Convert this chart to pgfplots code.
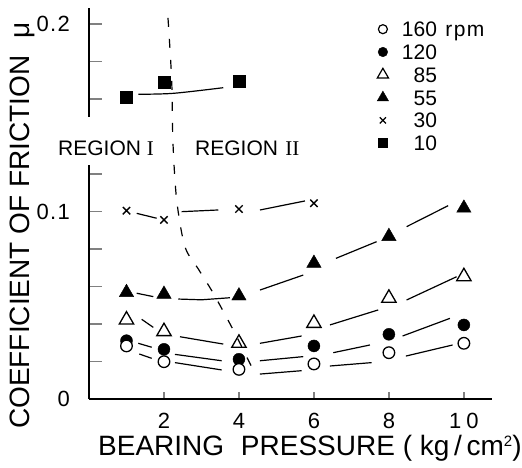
\documentclass[border=0pt]{standalone}
\usepackage{pgfplots}
\pgfplotsset{compat=1.18}
\usepackage{fontspec}
\setmainfont{Liberation Sans}
\newfontfamily\numeralfont{Liberation Serif}
\newfontfamily\tickfont{Liberation Sans}[LetterSpace=6]

% fitted friction curves, one broken segment between neighbouring points
\pgfplotstableread{
x y
1.341 0.0240
1.672 0.0217
nan nan
2.293 0.0194
3.539 0.0155
nan nan
4.56 0.0133
5.672 0.0151
nan nan
6.427 0.0176
7.539 0.0194
nan nan
8.453 0.0229
9.699 0.0288
}\fitA
\pgfplotstableread{
x y
1.315 0.0297
1.672 0.0276
nan nan
2.293 0.0238
3.539 0.0204
nan nan
4.56 0.0204
5.715 0.0226
nan nan
6.515 0.0247
7.493 0.0288
nan nan
8.365 0.0336
9.627 0.0430
}\fitB
\pgfplotstableread{
x y
1.405 0.0425
1.715 0.0382
nan nan
2.427 0.0332
3.581 0.0293
nan nan
4.56 0.0297
5.672 0.0336
nan nan
6.427 0.0395
7.715 0.0475
nan nan
8.472 0.0528
9.805 0.0652
}\fitC
\pgfplotstableread{
x y
1.272 0.0564
1.715 0.0546
nan nan
2.381 0.0533
3.0 0.0529
3.76 0.0540
nan nan
4.56 0.0581
5.715 0.0661
nan nan
6.587 0.0750
7.672 0.0839
nan nan
8.472 0.0919
9.581 0.1031
}\fitD
\pgfplotstableread{
x y
1.272 0.0990
1.805 0.0964
nan nan
2.472 0.0999
3.448 0.1008
nan nan
4.56 0.1008
5.76 0.1056
}\fitE
\pgfplotstableread{
x y
1.315 0.1625
2.25 0.1630
3.581 0.1660
}\fitF
% boundary between region I and region II
\pgfplotstableread{
x y
2.107 0.2032
2.205 0.1701
2.24 0.1365
2.339 0.1061
2.56 0.0812
2.933 0.0688
3.315 0.0564
3.848 0.0368
4.293 0.0190
4.373 0.0160
}\boundary
% measured coefficients of friction
\pgfplotstableread{
x y
1 0.0283
2 0.0199
4 0.0158
6 0.0187
8 0.0247
10 0.0297
}\rpmA
\pgfplotstableread{
x y
1 0.0311
2 0.0265
4 0.0212
6 0.0283
8 0.0345
10 0.0395
}\rpmB
\pgfplotstableread{
x y
1 0.0422
2 0.0360
4 0.0298
6 0.0404
8 0.0538
10 0.0653
}\rpmC
\pgfplotstableread{
x y
1 0.0568
2 0.0559
4 0.0550
6 0.0724
8 0.0867
10 0.1018
}\rpmD
\pgfplotstableread{
x y
1 0.1004
2 0.0955
4 0.1013
6 0.1044
}\rpmE
\pgfplotstableread{
x y
1 0.1607
2 0.1692
4 0.1696
}\rpmF

\begin{document}
\begin{tikzpicture}
\begin{axis}[
  scale only axis, width=403pt, height=391pt,
  xmin=0, xmax=10.75, ymin=0, ymax=0.2085,
  clip=false,
  axis x line*=bottom, axis y line*=left,
  x axis line style={line width=1.8pt, -},
  y axis line style={draw=none},
  tick align=inside,
  xtick={2,4,6,8,10}, xticklabels={2,4,6,8,1\hspace{5pt}0},
  ytick={0,0.1,0.2}, yticklabels={0,0.1,0.2},
  minor ytick={0.02,0.04,0.06,0.08,0.12,0.16,0.18},
  xtick style={line width=1.3pt, /pgfplots/major tick length=7pt},
  ytick style={line width=1.3pt, /pgfplots/major tick length=13pt},
  minor y tick style={line width=1.3pt, /pgfplots/minor tick length=13pt},
  /pgf/number format/assume math mode=true,
  tick label style={font=\tickfont\fontsize{22}{22}\selectfont, inner sep=0pt},
  yticklabel style={xshift=-19pt},
  xticklabel style={yshift=-14pt},
  xlabel={BEARING\hspace{0.6em}PRESSURE ( kg\,/\,cm\raisebox{9pt}{\fontsize{15}{15}\selectfont 2})},
  ylabel={COEFFICIENT OF FRICTION\hspace{0.6em}μ},
  label style={font=\fontsize{28}{28}\selectfont, inner sep=0pt},
  xlabel style={at={([xshift=9pt,yshift=-56pt]axis description cs:0,0)}, anchor=base west},
  ylabel style={at={([xshift=-59pt,yshift=-30pt]axis description cs:0,0)}, anchor=base west},
  unbounded coords=jump,
  legend image code/.code={\draw[#1] plot coordinates {(6pt,0pt)}; \path[draw=none, fill=none] (0pt,-7.5pt) rectangle (12pt,7.5pt);},
  legend cell align=left,
  legend style={draw=none, fill=none, at={(axis description cs:0.7144,0.965)}, anchor=north west,
    inner sep=0pt, outer sep=0pt, row sep=7.8pt, column sep=13pt,
    font=\fontsize{21}{21}\selectfont,
    nodes={inner sep=0pt, outer sep=0pt, text height=15pt, text depth=0pt}},
  fit/.style={black, line width=1.2pt, forget plot},
]
\coordinate (O) at (axis cs:0,0);
% broken vertical axis
\draw[line width=1.8pt] (axis cs:0,0) -- (axis cs:0,0.1248);
\draw[line width=1.8pt] (axis cs:0,0.1504) -- (axis cs:0,0.2085);

\addplot[fit] table {\fitA};
\addplot[fit] table {\fitB};
\addplot[fit] table {\fitC};
\addplot[fit] table {\fitD};
\addplot[fit] table {\fitE};
\addplot[fit, smooth] table {\fitF};
\addplot[black, line width=1.2pt, dash pattern=on 9pt off 12pt, smooth, tension=0.5, forget plot] table {\boundary};

\addplot[only marks, mark=*, mark size=6pt, black, forget plot] table {\rpmB};
\addplot[only marks, mark=*, mark size=5.8pt, mark options={fill=white, draw=black, line width=1.3pt}, forget plot] table {\rpmA};
\addplot[only marks, mark=triangle, mark size=8.3pt, mark options={fill=white, draw=black, line width=1.3pt}, forget plot] table {\rpmC};
\addplot[only marks, mark=triangle*, mark size=8.3pt, black, forget plot] table {\rpmD};
\addplot[only marks, mark=x, mark size=5.2pt, mark options={line width=1.4pt}, black, forget plot] table {\rpmE};
\addplot[only marks, mark=square*, mark size=6pt, black, forget plot] table {\rpmF};

\addlegendimage{only marks, mark=*, mark size=4.5pt, mark options={fill=white, draw=black, line width=1.2pt}}
\addlegendentry{160\hspace{0.4em}r\hspace{1.5pt}p\hspace{1.5pt}m}
\addlegendimage{only marks, mark=*, mark size=4.8pt, black}
\addlegendentry{120}
\addlegendimage{only marks, mark=triangle, mark size=6.5pt, mark options={fill=white, draw=black, line width=1.2pt}}
\addlegendentry{\hphantom{1}85}
\addlegendimage{only marks, mark=triangle*, mark size=6.5pt, black}
\addlegendentry{\hphantom{1}55}
\addlegendimage{only marks, mark=x, mark size=4.3pt, mark options={line width=1.3pt}, black}
\addlegendentry{\hphantom{1}30}
\addlegendimage{only marks, mark=square*, mark size=4.5pt, black}
\addlegendentry{\hphantom{1}10}

\node[anchor=base west, inner sep=0pt, font=\fontsize{21}{21}\selectfont] at (axis cs:-0.827,0.1301) {REGION {\numeralfont I}};
\node[anchor=base west, inner sep=0pt, font=\fontsize{21}{21}\selectfont] at (axis cs:2.827,0.1301) {REGION\hspace{0.35em}{\numeralfont II}};
\end{axis}
\path (O) ++(-89pt,-68pt) rectangle ++(522pt,467pt);
\end{tikzpicture}
\end{document}
